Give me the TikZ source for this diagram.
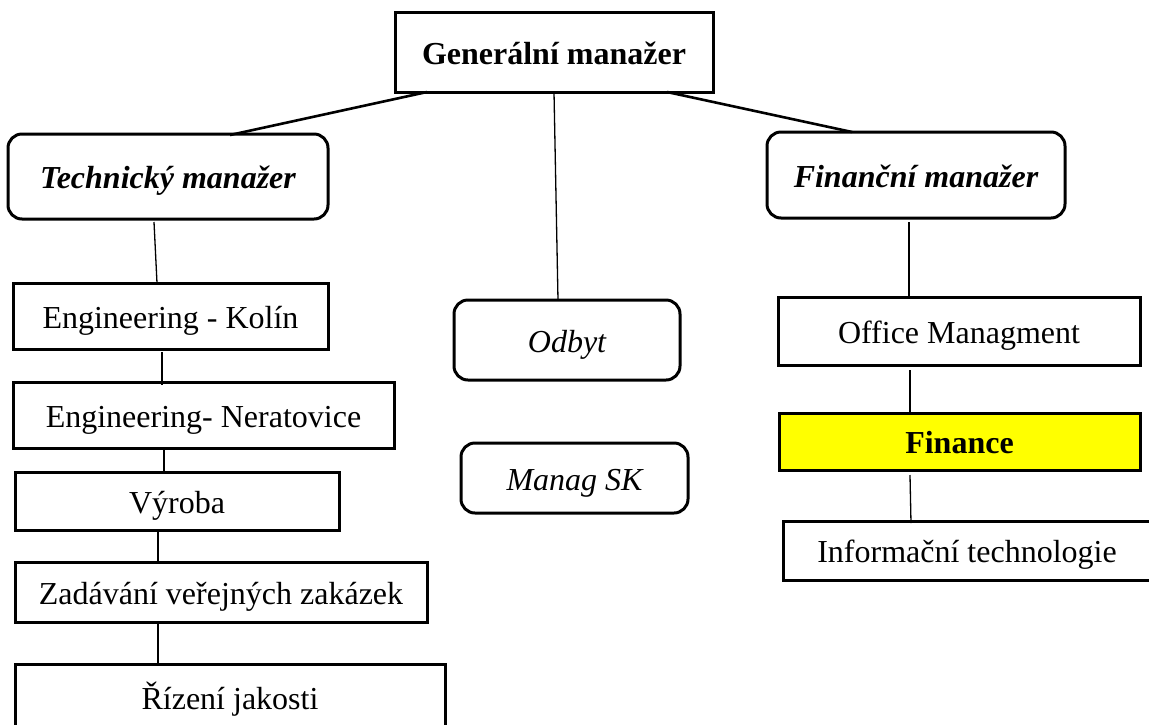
\documentclass[tikz,border=0pt]{standalone}
\usepackage{fontspec}
\setmainfont{Liberation Serif}
\usetikzlibrary{calc}
\definecolor{hlyellow}{RGB}{255,255,0}
\begin{document}
\begin{tikzpicture}[x=1pt,y=-1pt,
  box/.style={draw, line width=3pt, inner sep=0pt, outer sep=0pt, align=center,
              text height=24pt, text depth=0pt,
              font=\fontsize{32}{38}\selectfont},
  rbox/.style={box, rounded corners=14pt},
  boldtext/.style={font=\fontsize{32}{38}\selectfont\bfseries},
  bitext/.style={font=\fontsize{32}{38}\selectfont\bfseries\itshape},
  itext/.style={font=\fontsize{32}{38}\selectfont\itshape},
  link/.style={line width=1.3pt},
  toplink/.style={line width=2.6pt}]
\useasboundingbox (0,0) rectangle (1149,724);
\clip (0,0) rectangle (1149,724);

\node[box, boldtext, minimum width=318pt, minimum height=80pt] (gen) at (554,52) {Generální manažer};
\node[rbox, bitext, minimum width=320pt, minimum height=85pt] (tech) at (168,176.5) {Technický manažer};
\node[rbox, bitext, minimum width=298pt, minimum height=86pt] (fin) at (916,175) {Finanční manažer};
\node[rbox, itext, minimum width=226pt, minimum height=80pt] (odbyt) at (567,340) {Odbyt};
\node[rbox, itext, minimum width=227pt, minimum height=70pt] (managsk) at (574.5,478) {Manag SK};

\node[box, minimum width=315pt, minimum height=66pt] (kolin) at (170.5,316) {Engineering - Kolín};
\node[box, minimum width=381pt, minimum height=66pt] (nerat) at (203.5,415) {Engineering- Neratovice};
\node[box, minimum width=324pt, minimum height=58pt] (vyroba) at (177,501) {Výroba};
\node[box, minimum width=412pt, minimum height=60pt] (zad) at (221,592) {Zadávání veřejných zakázek};
\node[box, minimum width=430pt, minimum height=66pt] (rizeni) at (230,697) {Řízení jakosti};

\node[box, minimum width=362pt, minimum height=68pt] (office) at (959,331) {Office Managment};
\node[box, boldtext, fill=hlyellow, minimum width=361pt, minimum height=57pt] (finance) at (959.5,441.5) {Finance};
\node[box, minimum width=368pt, minimum height=59pt] (info) at (967,550.5) {Informační technologie};

\draw[toplink] ($(gen.south west)+(32,0)$) -- ($(tech.north west)+(222,1)$);
\draw[link] ($(gen.south west)+(159,0)$) -- ($(odbyt.north west)+(104,0)$);
\draw[toplink] ($(gen.south east)+(-46,0)$) -- ($(fin.north west)+(85,0)$);

\draw[link] ($(tech.south west)+(146,3)$) -- ($(kolin.north west)+(144,0)$);
\draw[link] ($(kolin.south west)+(149,3)$) -- ($(nerat.north west)+(149,3)$);
\draw[link] ($(nerat.south west)+(151,0)$) -- ($(vyroba.north west)+(149,1)$);
\draw[link] ($(vyroba.south west)+(143,2)$) -- ($(zad.north west)+(143,1)$);
\draw[link] ($(zad.south west)+(143,2)$) -- ($(rizeni.north west)+(143,-1)$);

\draw[link] ($(fin.south west)+(142,4)$) -- ($(office.north west)+(131,2)$);
\draw[link] ($(office.south west)+(132,5)$) -- ($(finance.north west)+(131,-1)$);
\draw[link] ($(finance.south west)+(131,5)$) -- ($(info.north west)+(128,2)$);
\end{tikzpicture}
\end{document}
